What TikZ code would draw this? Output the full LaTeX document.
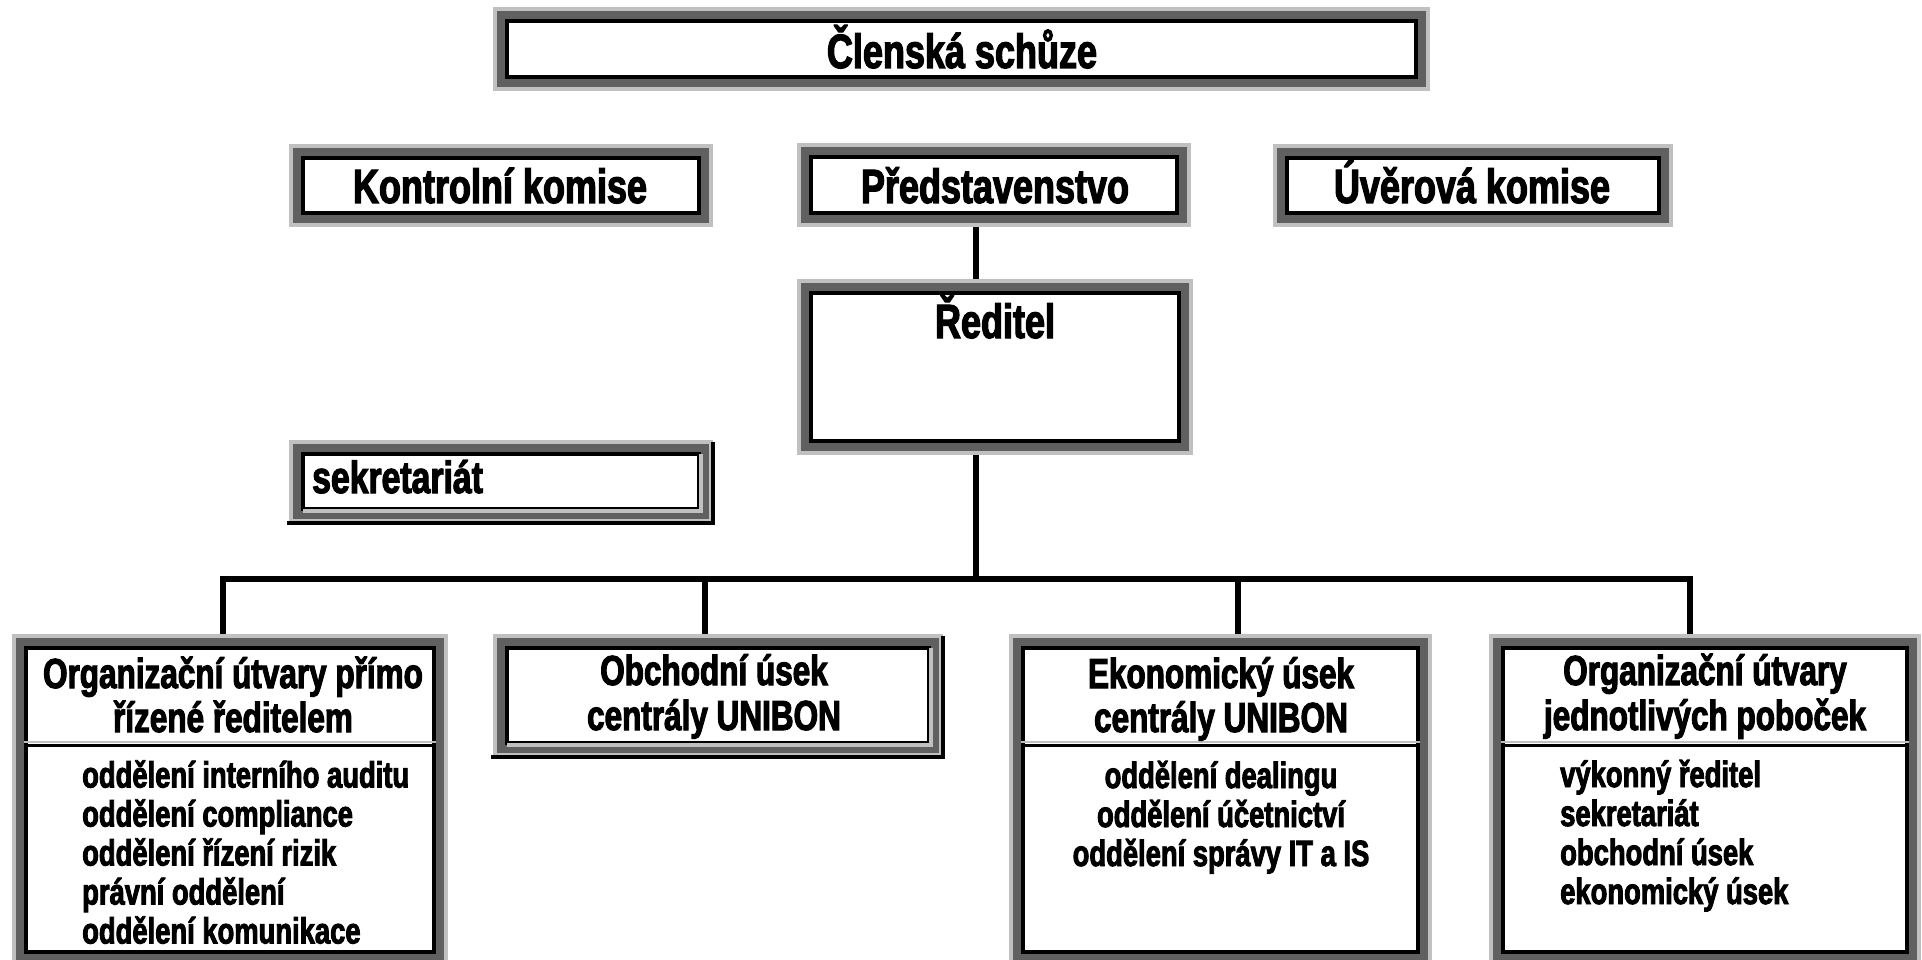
\documentclass[tikz,border=0pt]{standalone}
\usepackage{fontspec}
\setmainfont{Liberation Sans}[FakeStretch=0.75, FakeBold=2.5]
\usetikzlibrary{backgrounds}
\definecolor{dgray}{HTML}{606060}
\definecolor{lgray}{HTML}{C0C0C0}
\tikzset{
  orgbox/.style={draw=black, line width=4pt, fill=white, inner sep=0pt, line join=miter,
    preaction={draw=lgray, line width=28pt, line join=miter},
    preaction={draw=dgray, line width=20pt, line join=miter}},
  conn/.style={draw=black, line width=6pt},
  ttl/.style={inner sep=0pt, font=\fontsize{48}{52}\selectfont\bfseries},
  hdr/.style={inner sep=0pt, align=center, font=\fontsize{42}{#1}\selectfont\bfseries},
  itm/.style={inner sep=0pt, font=\fontsize{36.5}{#1}\selectfont\bfseries},
}
\begin{document}
\begin{tikzpicture}[x=1pt,y=-1pt]
\useasboundingbox (0,0) rectangle (1922,960);

% boxes
\node[orgbox, minimum width=909pt, minimum height=56pt] (T) at (961.5,49) {};
\node[orgbox, minimum width=396pt, minimum height=55pt] (K) at (501,185.5) {};
\node[orgbox, minimum width=366pt, minimum height=56pt] (P) at (994,185) {};
\node[orgbox, minimum width=372pt, minimum height=55pt] (U) at (1473,185.5) {};
\node[orgbox, minimum width=368pt, minimum height=148pt] (R) at (995,367) {};
\node[orgbox, minimum width=396pt, minimum height=55pt] (S) at (501,481.5) {};
\node[orgbox, minimum width=408pt, minimum height=304pt] (B1) at (230,800) {};
\node[orgbox, minimum width=422pt, minimum height=95pt] (B2) at (718,695.5) {};
\node[orgbox, minimum width=395pt, minimum height=304pt] (B3) at (1220.5,800) {};
\node[orgbox, minimum width=404pt, minimum height=304pt] (B4) at (1705,800) {};

% 3D edges of sekretariat and Obchodni usek
\foreach \b in {S,B2}{
  \draw[black, line width=4pt, line join=miter]
    ([shift={(-14pt,-12pt)}]\b.south west) -- ([shift={(12pt,-12pt)}]\b.south east)
    -- ([shift={(12pt,10pt)}]\b.north east);
  \draw[lgray, line width=4pt, line join=miter]
    ([xshift=2pt]\b.south west) -- (\b.south east) -- ([yshift=-2pt]\b.north east);
}

% header dividers
\coordinate (dv) at (0,745);
\coordinate (dg) at (0,741.5);
\foreach \b in {B1,B3,B4}{
  \draw[lgray, line width=2pt] (\b.west |- dg) -- (\b.east |- dg);
  \draw[black, line width=3pt] (\b.west |- dv) -- (\b.east |- dv);
}

% texts (base anchor of a multi-line node = baseline of its last line)
\node[ttl, anchor=base] (Tt) at (962,68) {Členská schůze};
\node[ttl, anchor=base] (Kt) at (500,203) {Kontrolní komise};
\node[ttl, anchor=base] (Pt) at (995,203) {Představenstvo};
\node[ttl, anchor=base] (Ut) at (1472,203) {Úvěrová komise};
\node[ttl, anchor=base] (Rt) at (995,338) {Ředitel};
\node[inner sep=0pt, font=\fontsize{45}{50}\selectfont\bfseries, anchor=base west] (St) at (312,493) {sekretariát};

\node[hdr=44, anchor=base] (B1h) at (233,732) {Organizační útvary přímo\\řízené ředitelem};
\node[hdr=45, anchor=base] (B2h) at (714,730) {Obchodní úsek\\centrály UNIBON};
\node[hdr=44, anchor=base] (B3h) at (1221,732) {Ekonomický úsek\\centrály UNIBON};
\node[hdr=45, anchor=base] (B4h) at (1705,730) {Organizační útvary\\jednotlivých poboček};

\node[itm=39, align=left, anchor=base west] (B1i) at (82,943.5)
  {oddělení interního auditu\\oddělení compliance\\oddělení řízení rizik\\právní oddělení\\oddělení komunikace};
\node[itm=39, align=center, anchor=base] (B3i) at (1221,866)
  {oddělení dealingu\\oddělení účetnictví\\oddělení správy IT a IS};
\node[itm=39, align=left, anchor=base west] (B4i) at (1560,904)
  {výkonný ředitel\\sekretariát\\obchodní úsek\\ekonomický úsek};

% connectors
\begin{scope}[on background layer]
  \fill[white] (0,0) rectangle (1922,960);
  \coordinate (rx) at (976,0);
  \coordinate (jr) at (976,579);
  \coordinate (j1) at (223,579);
  \coordinate (j2) at (705,579);
  \coordinate (j3) at (1238,579);
  \coordinate (j4) at (1690,579);
  \draw[conn] (P.south -| rx) -- (R.north -| rx);
  \draw[conn] (R.south -| rx) -- (jr);
  \draw[conn, line cap=rect] (j1) -- (j4);
  \draw[conn] (j1) -- (j1 |- B1.north);
  \draw[conn] (j2) -- (j2 |- B2.north);
  \draw[conn] (j3) -- (j3 |- B3.north);
  \draw[conn] (j4) -- (j4 |- B4.north);
\end{scope}
\end{tikzpicture}
\end{document}
